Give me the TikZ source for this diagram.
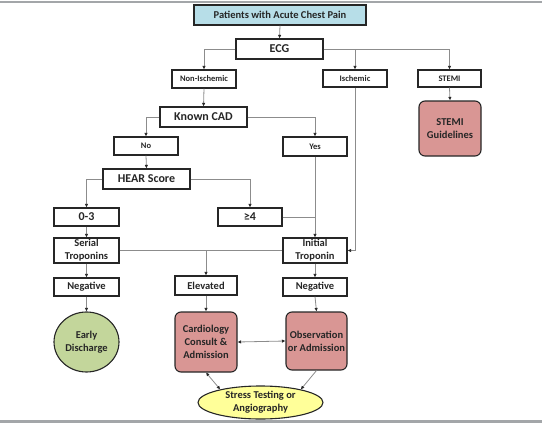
\documentclass[tikz,border=0pt]{standalone}
\usepackage{fontspec}
\setmainfont{Carlito}
\usetikzlibrary{arrows.meta,shapes.geometric,calc}
\definecolor{boxline}{HTML}{262626}
\definecolor{connline}{HTML}{8C8C8C}
\definecolor{rulegray}{HTML}{A3A6A9}
\definecolor{lblue}{HTML}{B7DEE8}
\definecolor{lpink}{HTML}{D99694}
\definecolor{lgreen}{HTML}{C3D69B}
\definecolor{lyellow}{HTML}{FFFF99}
\newcommand{\fsS}{\fontsize{8.5}{10}\selectfont\bfseries}
\newcommand{\fsM}{\fontsize{10.5}{13}\selectfont\bfseries}
\newcommand{\fsL}{\fontsize{12}{14}\selectfont\bfseries}
\tikzset{
  box/.style={draw=boxline, line width=1.1pt, fill=white, inner sep=0pt, align=center, text=black!85},
  rbox/.style={box, rounded corners=6pt, fill=lpink},
  oval/.style={box, ellipse},
  conn/.style={draw=connline, line width=0.8pt},
  arr/.style={conn, -{Latex[length=3.5pt,width=3.5pt,color=boxline]}},
  darr/.style={conn, {Latex[length=3.5pt,width=3.5pt,color=boxline]}-{Latex[length=3.5pt,width=3.5pt,color=boxline]}}
}
\begin{document}
\begin{tikzpicture}[x=1pt,y=-1pt]
\useasboundingbox (0,0) rectangle (542,426);
\draw[rulegray, line width=2.5pt] (0,2) -- (542,2);
\draw[rulegray, line width=2.5pt] (0,421.5) -- (542,421.5);

\node[box, fill=lblue, minimum width=172pt, minimum height=20pt, font=\fsM] (patients) at (280,15) {Patients with Acute Chest Pain};
\node[box, minimum width=87pt, minimum height=20pt, font=\fsL] (ecg) at (279.5,49) {ECG};
\node[box, minimum width=64pt, minimum height=18pt, font=\fsS] (nonisch) at (204,79) {Non-Ischemic};
\node[box, minimum width=64pt, minimum height=17pt, font=\fsS] (isch) at (355,78.5) {Ischemic};
\node[box, minimum width=63pt, minimum height=17pt, font=\fsS] (stemi) at (449.5,78.5) {STEMI};
\node[box, minimum width=87pt, minimum height=20pt, font=\fsL] (cad) at (203.5,117) {Known CAD};
\node[rbox, minimum width=62pt, minimum height=55pt, font=\fsM] (guide) at (450,128.5) {STEMI\\Guidelines};
\node[box, minimum width=64pt, minimum height=18pt, font=\fsS] (no) at (146,146) {No};
\node[box, minimum width=64pt, minimum height=19pt, font=\fsS] (yes) at (315,146.5) {Yes};
\node[box, minimum width=87pt, minimum height=20pt, font=\fsL] (hear) at (146.5,179) {HEAR Score};
\node[box, minimum width=65pt, minimum height=18pt, font=\fsL] (zero) at (86.5,217) {0-3};
\node[box, minimum width=64pt, minimum height=18pt, font=\fsL] (ge4) at (250,217) {≥4};
\node[box, minimum width=65pt, minimum height=25pt, font=\fsM] (serial) at (86.5,250.5) {Serial\\Troponins};
\node[box, minimum width=64pt, minimum height=25pt, font=\fsM] (initial) at (315,250.5) {Initial\\Troponin};
\node[box, minimum width=65pt, minimum height=18pt, font=\fsM] (negL) at (86.5,287) {Negative};
\node[box, minimum width=62pt, minimum height=19pt, font=\fsM] (elev) at (206,285.5) {Elevated};
\node[box, minimum width=64pt, minimum height=18pt, font=\fsM] (negR) at (315,287) {Negative};
\node[oval, fill=lgreen, minimum width=65pt, minimum height=60pt, font=\fsM] (early) at (86.5,342) {Early\\Discharge};
\node[rbox, minimum width=62pt, minimum height=60pt, font=\fsM] (cardio) at (206,342) {Cardiology\\Consult \&\\Admission};
\node[rbox, minimum width=61pt, minimum height=58pt, font=\fsM] (obs) at (316.5,341) {Observation\\or Admission};
\node[oval, fill=lyellow, minimum width=125pt, minimum height=33pt, font=\fsM] (stress) at (260.5,402.5) {Stress Testing or\\Angiography};

\coordinate (ischtop) at (isch.north |- ecg.east);
\coordinate (ge4join) at (yes.south |- ge4.east);
\coordinate (elevtop) at (elev.north |- serial.east);

\draw[arr] (patients.south) -- (ecg.north);
\draw[arr] (ecg.west) -| (nonisch.north);
\draw[arr] (ecg.east) -| (stemi.north);
\draw[arr] (ischtop) -- (isch.north);
\draw[arr] (stemi.south) -- (guide.north);
\draw[arr] (nonisch.south) -- (cad.north);
\draw[arr] (cad.west) -| (no.north);
\draw[arr] (cad.east) -| (yes.north);
\draw[arr] (no.south) -- (hear.north);
\draw[arr] (hear.west) -| (zero.north);
\draw[arr] (hear.east) -| (ge4.north);
\draw[arr] (yes.south) -- (initial.north);
\draw[conn] (ge4.east) -- (ge4join);
\draw[arr] (isch.south) |- (initial.east);
\draw[arr] (zero.south) -- (serial.north);
\draw[conn] (serial.east) -- (initial.west);
\draw[arr] (elevtop) -- (elev.north);
\draw[arr] (serial.south) -- (negL.north);
\draw[arr] (initial.south) -- (negR.north);
\draw[arr] (negL.south) -- (early.north);
\draw[arr] (elev.south) -- (cardio.north);
\draw[arr] (negR.south) -- (obs.north);
\draw[darr] (cardio.east) -- (obs.west);
\draw[darr] (cardio.south) -- (stress.162);
\draw[arr] (obs.south) -- (stress.18);
\end{tikzpicture}
\end{document}
